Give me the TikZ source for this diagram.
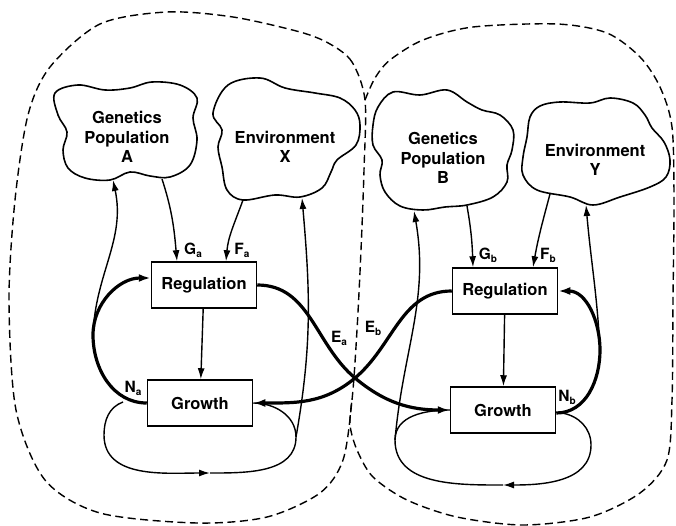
\documentclass[tikz,border=0pt]{standalone}
\usepackage{fontspec}
\setmainfont{TeX Gyre Heros}
\usetikzlibrary{arrows.meta}
\newcommand{\lsub}[2]{#1\raisebox{-0.35ex}{\fontsize{10}{10}\selectfont #2}}
\begin{document}
\begin{tikzpicture}[x=1pt,y=-1pt,font=\bfseries\fontsize{16.5}{19.5}\selectfont,
  box/.style={draw,line width=1.5pt,minimum width=105pt,minimum height=46pt,inner sep=0pt},
  thin/.style={line width=1.4pt},
  thinarr/.style={line width=1.4pt,-{Latex[length=11pt,width=7pt]}},
  thickarr/.style={line width=3.2pt,-{Latex[length=12pt,width=8pt]}},
  region/.style={line width=1.4pt,dash pattern=on 8pt off 4.5pt},
  blob/.style={line width=1.6pt},
  lab/.style={font=\bfseries\fontsize{15.5}{15.5}\selectfont,inner sep=0pt}]
 \useasboundingbox (0,0) rectangle (676,526);
 % the two populations
 \draw[region] plot[smooth cycle] coordinates {(365,100) (352,62) (330,44) (300,32) (233,17) (167,12)
   (100,24) (50,67) (28,115) (15,200) (9,300) (16,410) (45,480) (100,513) (197,523) (267,517)
   (320,493) (343,460) (352,400) (357,330) (361,250) (364,170)};
 \draw[region] plot[smooth] coordinates {(365,100) (375,78) (390,60) (423,40) (473,27) (557,24)
   (607,33) (640,57) (660,87) (672,127) (674,200) (673,300) (672,400) (667,460) (640,493)
   (590,517) (523,525) (457,517) (407,500) (373,477) (357,450) (350,425) (352,400)};
 % clouds
 \draw[blob] plot[smooth cycle,tension=0.6] coordinates {(55,93) (78,85) (105,90) (130,88) (152,82)
   (180,85) (197,98) (193,118) (197,140) (190,165) (170,177) (150,176) (130,172) (110,180)
   (85,178) (68,168) (63,150) (67,132) (58,115)};
 \draw[blob] plot[smooth cycle,tension=0.6] coordinates {(213,113) (228,85) (260,78) (285,88) (315,93)
   (340,98) (355,110) (360,125) (356,145) (337,160) (331,172) (322,188) (300,197) (275,195)
   (243,200) (227,190) (222,167) (218,147) (222,130)};
 \draw[blob] plot[smooth cycle,tension=0.6] coordinates {(378,107) (393,92) (420,95) (447,90) (467,102)
   (482,110) (500,115) (513,130) (512,150) (507,165) (507,182) (493,197) (467,205) (445,207)
   (423,210) (400,206) (385,192) (380,175) (382,160) (373,145) (373,125)};
 \draw[blob] plot[smooth cycle,tension=0.6] coordinates {(527,137) (530,117) (540,106) (560,102)
   (590,103) (610,98) (633,103) (645,115) (652,128) (664,142) (670,160) (666,177) (650,187)
   (620,197) (593,205) (570,197) (537,190) (523,175) (523,157)};
 \node[align=center] (genA) at (127,137) {Genetics\\Population\\A};
 \node[align=center] (envX) at (285,147) {Environment\\X};
 \node[align=center] (genB) at (443,158) {Genetics\\Population\\B};
 \node[align=center] (envY) at (595,160) {Environment\\Y};
 \coordinate (gAo) at (162,179); \coordinate (gAi) at (113,180);
 \coordinate (eXo) at (243,200); \coordinate (eXi) at (302,198);
 \coordinate (gBo) at (467,206); \coordinate (gBi) at (414,211);
 \coordinate (eYo) at (550,194); \coordinate (eYi) at (586,205);
 % boxes
 \node[box] (regA) at (204,285) {Regulation};
 \node[box] (groA) at (200,403) {Growth};
 \node[box] (regB) at (505,291) {Regulation};
 \node[box] (groB) at (503,410) {Growth};
 \coordinate (na) at (93,335); \coordinate (la) at (123,402);
 \coordinate (bA) at (210,473); \coordinate (xa) at (296,437);
 \coordinate (nb) at (600,350); \coordinate (lb) at (562,413);
 \coordinate (bB) at (503,485); \coordinate (yb) at (395,440);
 \coordinate (cx) at (355,378);
 % inputs to regulation
 \draw[thinarr] (gAo) to[out=-72,in=95] ([xshift=-27pt]regA.north);
 \draw[thinarr] (eXo) to[out=-110,in=85] ([xshift=22pt]regA.north);
 \draw[thinarr] (gBo) to[out=-80,in=92] ([xshift=-32pt]regB.north);
 \draw[thinarr] (eYo) to[out=-105,in=80] ([xshift=28pt]regB.north);
 \node[lab] (Ga) at (193,250) {\lsub{G}{a}};
 \node[lab] (Fa) at (242,250) {\lsub{F}{a}};
 \node[lab] (Gb) at (488,255) {\lsub{G}{b}};
 \node[lab] (Fb) at (548,255) {\lsub{F}{b}};
 \draw[thinarr] (regA) -- (groA);
 \draw[thinarr] (regB) -- (groB);
 % feedback from growth
 \draw[thickarr] (groA.west) to[out=180,in=-90] (na) to[out=90,in=180] ([yshift=7pt]regA.west);
 \draw[thickarr] ([yshift=-3pt]groB.east) to[out=0,in=-90] (nb) to[out=90,in=0] (regB.east);
 \draw[thinarr] (na) to[out=88,in=-78] (gAi);
 \draw[thinarr] (nb) to[out=93,in=-85] (eYi);
 \draw[thinarr] (la) to[out=200,in=90] (104,435) to[out=-90,in=180] (bA);
 \draw[thin] (bA) to[out=0,in=-90] (xa) to[out=90,in=0] (groA.east);
 \draw[thinarr] (xa) to[out=80,in=-85] (eXi);
 \draw[thinarr] (lb) to[out=-10,in=90] (591,445) to[out=-90,in=0] (bB);
 \draw[thin] (bB) to[out=180,in=-90] (yb) to[out=90,in=180] (groB.west);
 \draw[thinarr] (yb) to[out=85,in=-80] (gBi);
 % exchange between populations
 \draw[thickarr] (regA.east) to[out=0,in=140] (cx) to[out=-40,in=180] (groB.west);
 \draw[thickarr] (regB.west) to[out=180,in=40] (cx) to[out=-140,in=0] (groA.east);
 \node[lab] (Na) at (133,388) {\lsub{N}{a}};
 \node[lab] (Nb) at (567,397) {\lsub{N}{b}};
 \node[lab] (Ea) at (339,338) {\lsub{E}{a}};
 \node[lab] (Eb) at (373,328) {\lsub{E}{b}};
\end{tikzpicture}
\end{document}
